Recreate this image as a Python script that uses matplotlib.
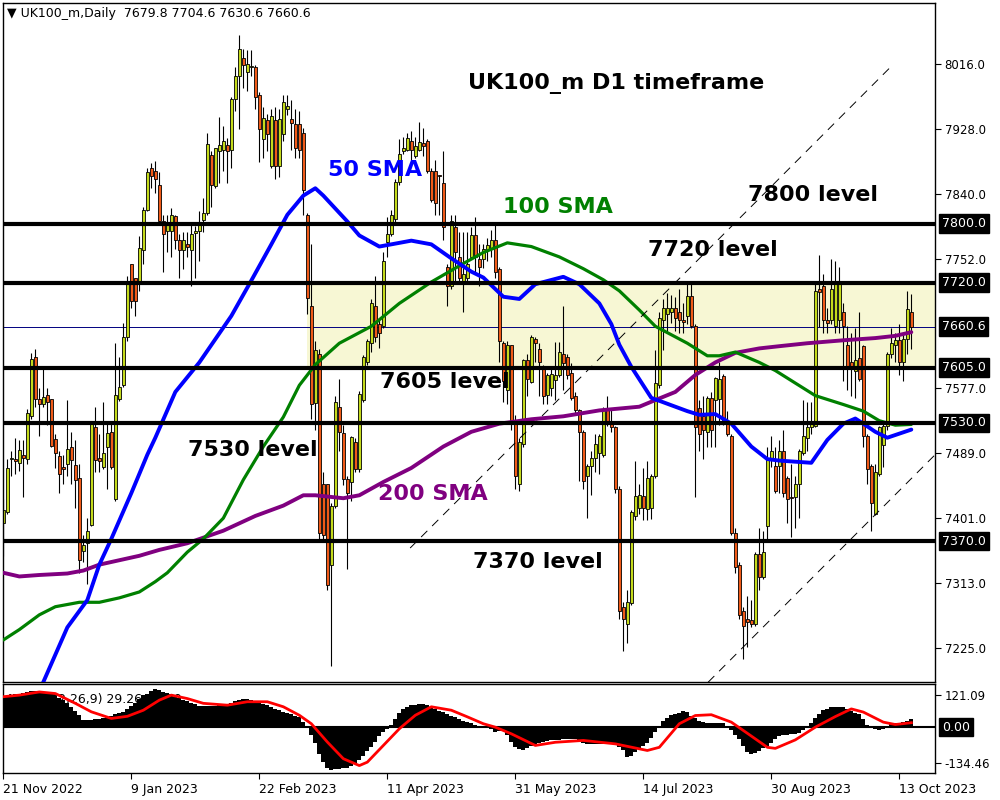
import sys
import numpy as np
import matplotlib
matplotlib.use("Agg")
import matplotlib.pyplot as plt

from matplotlib.patches import Rectangle
from matplotlib.transforms import blended_transform_factory


HEADER: str = "\u25bc UK100_m,Daily  7679.8 7704.6 7630.6 7660.6"
MACD_TEXT: str = "MACD(12,26,9) 29.26 16.80"

# daily candles, 21 Nov 2022 -> 18 Oct 2023
OPEN: list = [
    7395, 7410, 7481, 7481, 7476, 7487, 7481, 7539, 7619, 7562,
    7556, 7568, 7562, 7508, 7485, 7470, 7475, 7497, 7473, 7455,
    7356, 7368, 7392, 7524, 7483, 7470, 7497, 7518, 7427, 7562,
    7581, 7646, 7745, 7727, 7722, 7765, 7818, 7875, 7871, 7853,
    7803, 7790, 7790, 7811, 7778, 7765, 7773, 7764, 7787, 7790,
    7805, 7815, 7893, 7851, 7899, 7900, 7906, 7900, 7969, 8000,
    8024, 8006, 8012, 8012, 7975, 7915, 7940, 7878, 7940, 7878,
    7922, 7955, 7942, 7935, 7935, 7923, 7812, 7688, 7557, 7624,
    7447, 7447, 7338, 7418, 7551, 7517, 7454, 7450, 7504, 7467,
    7561, 7612, 7638, 7688, 7664, 7661, 7775, 7786, 7806, 7857,
    7898, 7900, 7912, 7892, 7900, 7909, 7912, 7872, 7872, 7866,
    7855, 7741, 7715, 7796, 7755, 7721, 7726, 7755, 7785, 7752,
    7752, 7764, 7766, 7778, 7738, 7638, 7575, 7635, 7529, 7447,
    7501, 7615, 7586, 7644, 7630, 7607, 7568, 7577, 7588, 7595,
    7624, 7620, 7597, 7566, 7547, 7518, 7458, 7472, 7482, 7489,
    7487, 7547, 7529, 7525, 7441, 7280, 7257, 7286, 7404, 7415,
    7431, 7414, 7415, 7458, 7581, 7669, 7678, 7680, 7686, 7680,
    7670, 7675, 7702, 7661, 7550, 7540, 7518, 7564, 7561, 7563,
    7594, 7532, 7512, 7381, 7338, 7275, 7264, 7263, 7258, 7352,
    7321, 7390, 7481, 7472, 7472, 7492, 7455, 7430, 7430, 7447,
    7489, 7509, 7524, 7526, 7712, 7715, 7670, 7670, 7661, 7669,
    7680, 7636, 7612, 7601, 7618, 7634, 7512, 7472, 7407, 7461,
    7500, 7526, 7624, 7635, 7642, 7612, 7644, 7679.8,
]
HIGH: list = [
    7427, 7481, 7492, 7509, 7507, 7507, 7549, 7625, 7630, 7578,
    7606, 7578, 7562, 7515, 7492, 7487, 7561, 7518, 7507, 7475,
    7378, 7401, 7529, 7552, 7515, 7558, 7529, 7532, 7638, 7619,
    7666, 7729, 7746, 7727, 7783, 7823, 7876, 7882, 7885, 7870,
    7812, 7812, 7821, 7812, 7786, 7789, 7789, 7800, 7797, 7817,
    7835, 7923, 7898, 7903, 7944, 7932, 7916, 7972, 8012, 8055,
    8036, 8035, 8035, 8015, 7978, 7958, 7949, 7955, 7958, 7956,
    7975, 7975, 7967, 7955, 7952, 7929, 7815, 7772, 7641, 7630,
    7464, 7447, 7421, 7566, 7589, 7527, 7458, 7512, 7509, 7573,
    7622, 7644, 7698, 7729, 7669, 7761, 7809, 7818, 7861, 7915,
    7918, 7923, 7926, 7918, 7938, 7929, 7915, 7875, 7886, 7866,
    7898, 7746, 7812, 7812, 7789, 7789, 7789, 7795, 7809, 7772,
    7772, 7780, 7792, 7801, 7741, 7641, 7641, 7635, 7541, 7509,
    7617, 7624, 7649, 7646, 7638, 7609, 7598, 7606, 7640, 7640,
    7689, 7624, 7611, 7572, 7549, 7521, 7475, 7492, 7515, 7515,
    7552, 7566, 7549, 7526, 7444, 7287, 7304, 7412, 7478, 7447,
    7469, 7478, 7461, 7629, 7681, 7698, 7706, 7704, 7701, 7712,
    7692, 7721, 7721, 7664, 7561, 7566, 7566, 7572, 7592, 7612,
    7596, 7546, 7515, 7387, 7341, 7281, 7295, 7290, 7355, 7387,
    7384, 7498, 7512, 7498, 7507, 7521, 7458, 7475, 7458, 7495,
    7561, 7558, 7558, 7721, 7758, 7732, 7686, 7752, 7750, 7741,
    7692, 7661, 7652, 7658, 7680, 7635, 7515, 7475, 7475, 7526,
    7529, 7626, 7658, 7652, 7664, 7652, 7709, 7704.6,
]
LOW: list = [
    7350, 7407, 7458, 7461, 7465, 7430, 7475, 7535, 7552, 7512,
    7552, 7527, 7498, 7469, 7435, 7447, 7458, 7447, 7415, 7327,
    7341, 7312, 7390, 7464, 7464, 7467, 7441, 7467, 7424, 7560,
    7579, 7641, 7686, 7675, 7709, 7746, 7817, 7849, 7841, 7800,
    7735, 7761, 7755, 7766, 7726, 7738, 7755, 7715, 7726, 7750,
    7789, 7812, 7823, 7849, 7855, 7872, 7855, 7875, 7952, 7928,
    7984, 7980, 8000, 7955, 7883, 7889, 7898, 7876, 7860, 7863,
    7912, 7947, 7900, 7889, 7889, 7812, 7678, 7535, 7520, 7372,
    7372, 7304, 7201, 7415, 7492, 7446, 7332, 7424, 7464, 7464,
    7558, 7609, 7626, 7640, 7632, 7658, 7755, 7783, 7801, 7852,
    7895, 7898, 7886, 7889, 7898, 7892, 7869, 7829, 7812, 7812,
    7778, 7689, 7712, 7721, 7721, 7681, 7721, 7752, 7732, 7715,
    7740, 7750, 7755, 7726, 7612, 7558, 7555, 7521, 7441, 7438,
    7498, 7567, 7584, 7612, 7567, 7555, 7555, 7567, 7561, 7592,
    7575, 7589, 7561, 7544, 7452, 7441, 7401, 7432, 7464, 7461,
    7484, 7526, 7518, 7435, 7264, 7221, 7232, 7284, 7398, 7407,
    7398, 7398, 7400, 7455, 7578, 7629, 7652, 7666, 7655, 7652,
    7652, 7664, 7658, 7430, 7492, 7481, 7498, 7498, 7498, 7527,
    7527, 7512, 7378, 7327, 7264, 7210, 7227, 7253, 7255, 7304,
    7318, 7372, 7470, 7435, 7435, 7430, 7395, 7375, 7387, 7401,
    7487, 7492, 7515, 7524, 7660, 7652, 7652, 7664, 7652, 7652,
    7587, 7575, 7567, 7564, 7587, 7498, 7447, 7384, 7405, 7458,
    7470, 7521, 7618, 7612, 7595, 7587, 7624, 7630.6,
]
CLOSE: list = [
    7412, 7469, 7483, 7478, 7493, 7482, 7544, 7616, 7562, 7556,
    7565, 7559, 7499, 7489, 7461, 7468, 7495, 7480, 7453, 7344,
    7364, 7384, 7528, 7480, 7478, 7489, 7516, 7470, 7568, 7579,
    7646, 7722, 7695, 7695, 7767, 7818, 7870, 7865, 7860, 7803,
    7786, 7800, 7812, 7778, 7765, 7778, 7768, 7786, 7790, 7799,
    7815, 7908, 7852, 7902, 7906, 7912, 7898, 7969, 8000, 8036,
    8015, 8016, 8014, 7971, 7928, 7943, 7922, 7946, 7878, 7942,
    7965, 7960, 7936, 7902, 7900, 7846, 7699, 7555, 7629, 7381,
    7378, 7310, 7418, 7558, 7518, 7454, 7435, 7511, 7467, 7569,
    7620, 7641, 7692, 7646, 7652, 7749, 7786, 7812, 7857, 7895,
    7903, 7916, 7900, 7905, 7910, 7905, 7872, 7832, 7828, 7864,
    7795, 7715, 7803, 7761, 7726, 7732, 7746, 7785, 7755, 7741,
    7766, 7771, 7778, 7735, 7641, 7587, 7636, 7529, 7458, 7504,
    7615, 7589, 7646, 7638, 7612, 7567, 7595, 7596, 7595, 7626,
    7611, 7595, 7564, 7547, 7518, 7452, 7472, 7482, 7501, 7512,
    7547, 7529, 7525, 7441, 7275, 7264, 7287, 7410, 7431, 7432,
    7415, 7455, 7458, 7584, 7672, 7686, 7686, 7686, 7672, 7669,
    7667, 7702, 7661, 7524, 7515, 7520, 7564, 7521, 7591, 7590,
    7532, 7515, 7381, 7335, 7270, 7255, 7260, 7258, 7352, 7321,
    7355, 7481, 7492, 7438, 7492, 7435, 7427, 7428, 7447, 7492,
    7512, 7524, 7529, 7709, 7708, 7670, 7666, 7712, 7718, 7718,
    7661, 7607, 7606, 7615, 7589, 7512, 7467, 7421, 7464, 7524,
    7526, 7624, 7638, 7642, 7612, 7644, 7684, 7660.6,
]

DATE_BARS: list = [0, 32, 64, 96, 128, 160, 192, 224]
DATE_LABELS: list = ["21 Nov 2022", "9 Jan 2023", "22 Feb 2023", "11 Apr 2023",
                     "31 May 2023", "14 Jul 2023", "30 Aug 2023", "13 Oct 2023"]

SMA50_BARS: list = [4, 10, 16, 21, 24, 27, 32, 36, 38, 43, 49, 57, 62, 67, 71, 75, 78,
                    80, 86, 89, 94, 102, 107, 112, 117, 120, 125, 129, 133, 140, 144,
                    149, 152, 154, 157, 162, 171, 174, 178, 182, 187, 191, 194, 202,
                    206, 210, 213, 215, 218, 221, 227]
SMA50: list = [7110, 7179, 7253, 7290, 7338, 7373, 7435, 7487, 7510, 7572, 7612, 7675,
               7723, 7772, 7812, 7838, 7848, 7838, 7803, 7784, 7769, 7777, 7772, 7753,
               7735, 7727, 7701, 7698, 7718, 7728, 7718, 7692, 7664, 7636, 7606, 7564,
               7546, 7541, 7542, 7529, 7498, 7481, 7479, 7476, 7507, 7529, 7536, 7529,
               7518, 7510, 7521]
SMA100_BARS: list = [0, 4, 9, 13, 19, 24, 29, 34, 38, 41, 46, 50, 55, 60, 65, 70, 74,
                     78, 84, 92, 99, 107, 115, 120, 126, 132, 139, 145, 150, 154, 159,
                     163, 171, 176, 179, 183, 189, 193, 198, 203, 210, 215, 219, 223, 227]
SMA100: list = [7236, 7250, 7270, 7281, 7287, 7287, 7293, 7301, 7315, 7327, 7355, 7373,
                7401, 7453, 7498, 7538, 7581, 7609, 7638, 7661, 7692, 7721, 7746, 7761,
                7774, 7769, 7755, 7739, 7724, 7709, 7683, 7661, 7638, 7621, 7621, 7626,
                7612, 7601, 7584, 7567, 7555, 7546, 7533, 7527, 7528]
SMA200_BARS: list = [0, 4, 9, 16, 20, 24, 29, 34, 39, 46, 55, 63, 70, 75, 78, 85, 89,
                     95, 102, 110, 117, 124, 132, 140, 149, 155, 159, 163, 168, 173, 178,
                     183, 189, 194, 201, 210, 218, 223, 227]
SMA200: list = [7327, 7322, 7324, 7326, 7330, 7338, 7344, 7350, 7358, 7367, 7384, 7404,
                7418, 7432, 7432, 7428, 7432, 7450, 7469, 7498, 7518, 7529, 7535, 7539,
                7547, 7550, 7552, 7561, 7572, 7595, 7612, 7625, 7631, 7634, 7638, 7642,
                7645, 7648, 7653]

MACD_HIST: list = [
    112, 116, 120, 124, 127, 130, 134, 137, 136, 135,
    133, 130, 126, 121, 112, 101, 90, 76, 60, 45,
    28, 27, 28, 29, 31, 34, 37, 43, 49, 55,
    58, 68, 80, 90, 106, 120, 127, 138, 143, 139,
    133, 128, 121, 115, 110, 104, 98, 92, 86, 80,
    79, 79, 79, 80, 83, 86, 89, 93, 99, 104,
    108, 106, 103, 98, 92, 87, 82, 76, 70, 64,
    58, 53, 48, 43, 37, 20, 0, -30, -60, -100,
    -130, -155, -160, -159, -157, -155, -153, -145, -135, -125,
    -110, -90, -75, -55, -35, -20, -5, 10, 30, 55,
    68, 76, 82, 85, 87, 86, 82, 74, 68, 62,
    56, 48, 44, 38, 32, 25, 20, 14, 8, 3,
    1, 0, -8, -18, -14, -13, -30, -55, -76, -84,
    -88, -80, -70, -63, -58, -55, -52, -50, -50, -48,
    -46, -45, -44, -44, -50, -58, -63, -64, -63, -63,
    -63, -62, -63, -63, -75, -88, -111, -110, -95, -82,
    -72, -60, -40, -19, 5, 25, 35, 45, 50, 55,
    60, 58, 44, 35, 25, 19, 17, 16, 15, 15,
    15, 5, -10, -30, -44, -70, -95, -100, -98, -91,
    -80, -70, -60, -45, -35, -31, -28, -26, -25, -22,
    -10, 0, 15, 35, 50, 63, 70, 75, 78, 78,
    76, 70, 62, 55, 50, 30, 10, 0, -5, -10,
    -5, 5, 13, 15, 17, 19, 24, 29.26,
]
SIGNAL_BARS: list = [0, 4, 9, 13, 18, 22, 27, 31, 35, 39, 42, 46, 50, 56, 61, 66, 70, 74,
                     77, 81, 85, 89, 91, 95, 99, 103, 107, 112, 116, 120, 123, 127, 133,
                     138, 145, 153, 161, 164, 169, 173, 177, 182, 186, 191, 193, 198,
                     203, 208, 212, 215, 220, 223, 227]
SIGNAL: list = [115, 121, 133, 127, 90, 58, 33, 41, 64, 102, 121, 108, 90, 83, 96, 96,
                77, 45, 13, -56, -119, -145, -132, -69, -6, 45, 77, 64, 39, 13, 0, -25,
                -69, -57, -50, -63, -88, -76, 13, 44, 47, 19, -23, -76, -80, -48, 0, 40,
                69, 57, 19, 10, 16.8]

LEVELS: list = [7800.0, 7720.0, 7605.0, 7530.0, 7370.0]
ZONE: tuple = (75.8, 7605.0, 7720.0)
PRICE_TICKS: list = [8016.0, 7928.0, 7840.0, 7752.0, 7577.0, 7489.0, 7401.0, 7313.0, 7225.0]
MACD_TICKS: list = [121.09, -134.46]
TREND_UPPER: tuple = ([101.7, 221.7], [7360.5, 8011.6])
TREND_LOWER: tuple = ([176.2, 232.9], [7178.7, 7486.7])

BULL: str = "#c4da1c"
BEAR: str = "#f05a18"


def draw_candles(ax, opens, highs, lows, closes) -> None:
    o, h = np.array(opens, float), np.array(highs, float)
    l, c = np.array(lows, float), np.array(closes, float)
    x = np.arange(len(c))
    ax.vlines(x, l, h, color="black", linewidth=0.8, zorder=2)
    up = c >= o
    body = np.maximum(np.abs(c - o), 0.8)
    ax.bar(x[up], body[up], bottom=o[up], width=0.72, color=BULL,
           edgecolor="black", linewidth=0.6, zorder=2.5)
    ax.bar(x[~up], body[~up], bottom=c[~up], width=0.72, color=BEAR,
           edgecolor="black", linewidth=0.6, zorder=2.5)


def boxed_label(ax, y: float, text: str) -> None:
    trans = blended_transform_factory(ax.transAxes, ax.transData)
    ax.text(1.0075, y, text, transform=trans, ha="left", va="center", fontsize=9,
            color="white", clip_on=False, zorder=10,
            bbox=dict(boxstyle="square,pad=0.22", facecolor="black", edgecolor="black"))


def main():
    fig = plt.figure(figsize=(10, 8), dpi=100)
    ax = fig.add_axes([0.0025, 0.1475, 0.9325, 0.84875])
    ax2 = fig.add_axes([0.0025, 0.03375, 0.9325, 0.11125])

    xlim = (-0.21, 232.92)

    # price panel
    ax.add_patch(Rectangle((ZONE[0], ZONE[1]), 300, ZONE[2] - ZONE[1],
                           facecolor="#f7f7d4", edgecolor="none", zorder=0.5))
    ax.axhline(CLOSE[-1], color="#000080", linewidth=0.7, zorder=1)
    draw_candles(ax, OPEN, HIGH, LOW, CLOSE)

    ax.plot(SMA200_BARS, SMA200, color="#800080", linewidth=2.8, zorder=3,
            solid_capstyle="round", solid_joinstyle="round")
    ax.plot(SMA100_BARS, SMA100, color="#008000", linewidth=2.3, zorder=3,
            solid_capstyle="round", solid_joinstyle="round")
    ax.plot(SMA50_BARS, SMA50, color="#0000ff", linewidth=2.8, zorder=3,
            solid_capstyle="round", solid_joinstyle="round")

    for lvl in LEVELS:
        ax.axhline(lvl, color="black", linewidth=3, zorder=4)

    for xs, ys in (TREND_UPPER, TREND_LOWER):
        ax.plot(xs, ys, color="black", linewidth=0.7, linestyle=(0, (9, 7)), zorder=4)

    labels = [
        (116.2, 7990, "UK100_m D1 timeframe", "black"),
        (81.2, 7873, "50 SMA", "#0000ff"),
        (124.9, 7822, "100 SMA", "#008000"),
        (186.2, 7839, "7800 level", "black"),
        (161.2, 7765, "7720 level", "black"),
        (94.2, 7586, "7605 level", "black"),
        (46.2, 7493, "7530 level", "black"),
        (93.7, 7434, "200 SMA", "#800080"),
        (117.4, 7342, "7370 level", "black"),
    ]
    for x, y, txt, col in labels:
        ax.text(x, y, txt, color=col, fontsize=16, fontweight="bold",
                ha="left", va="center", zorder=6)

    ax.set_xlim(*xlim)
    ax.set_ylim(7179, 8099)
    ax.yaxis.tick_right()
    ax.set_yticks(PRICE_TICKS)
    ax.set_yticklabels([f"{t:.1f}" for t in PRICE_TICKS])
    ax.tick_params(axis="y", direction="out", length=4, width=0.8, labelsize=8.5,
                   pad=3, colors="black")
    ax.tick_params(axis="x", bottom=False, labelbottom=False)
    for lvl in LEVELS + [CLOSE[-1]]:
        boxed_label(ax, lvl, f"{lvl:.1f}")

    # MACD panel
    ax2.text(0.006, 0.83, MACD_TEXT, transform=ax2.transAxes, fontsize=9,
             ha="left", va="center", zorder=1)
    ax2.bar(np.arange(len(MACD_HIST)), MACD_HIST, width=1.0, color="black",
            linewidth=0, zorder=2)
    ax2.axhline(0, color="black", linewidth=1.5, zorder=2)
    ax2.plot(SIGNAL_BARS, SIGNAL, color="#ff0000", linewidth=2, zorder=3,
             solid_joinstyle="round")
    ax2.set_xlim(*xlim)
    ax2.set_ylim(-173, 163)
    ax2.yaxis.tick_right()
    ax2.set_yticks(MACD_TICKS)
    ax2.set_yticklabels([f"{t:.2f}" for t in MACD_TICKS])
    ax2.tick_params(axis="y", direction="out", length=4, width=0.8, labelsize=8.5, pad=3)
    boxed_label(ax2, 0.0, "0.00")

    ax2.set_xticks(DATE_BARS)
    ax2.set_xticklabels(DATE_LABELS, ha="left")
    ax2.tick_params(axis="x", direction="out", length=4, width=0.8, labelsize=9, pad=3)

    for a in (ax, ax2):
        for sp in a.spines.values():
            sp.set_color("black")
            sp.set_linewidth(1)

    fig.text(0.007, 1 - 14 / 800, HEADER, fontsize=9, ha="left", va="center")

    fig.savefig("out.png", dpi=100, facecolor="white")


if __name__ == "__main__":
    sys.exit(main() or 0)
